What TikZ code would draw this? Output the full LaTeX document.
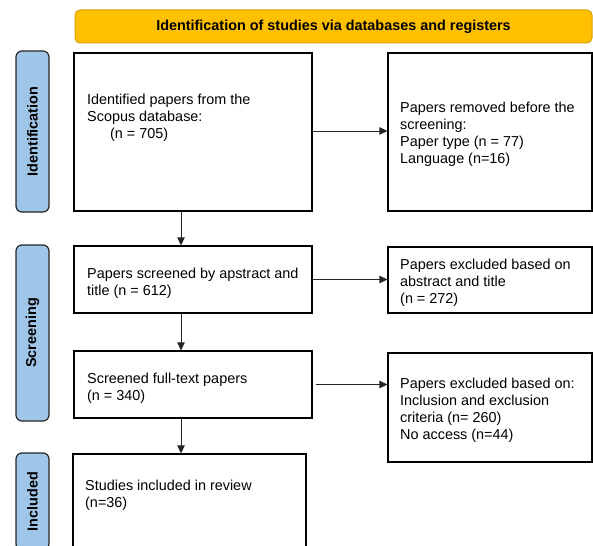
\documentclass[tikz,border=0pt]{standalone}
\usepackage{fontspec}
\setmainfont{Liberation Sans}
\usetikzlibrary{arrows.meta}
\definecolor{hdrfill}{HTML}{FFC000}
\definecolor{hdrdraw}{HTML}{D6A000}
\definecolor{sidefill}{HTML}{9FC5E8}
\definecolor{sidedraw}{HTML}{262626}
\begin{document}
\begin{tikzpicture}[x=1pt,y=-1pt,
  every node/.style={font=\fontsize{14.4}{17}\selectfont},
  hdr/.style={draw=hdrdraw, fill=hdrfill, line width=1pt, rounded corners=5pt, inner sep=0pt,
    font=\bfseries\fontsize{14.4}{17}\selectfont},
  side/.style={draw=sidedraw, fill=sidefill, line width=1.2pt, rounded corners=6pt, inner sep=0pt,
    rotate=90, minimum height=33pt, font=\bfseries\fontsize{14.4}{17}\selectfont},
  box/.style={draw=black, line width=1.2pt, inner sep=0pt},
  txt/.style={align=left, inner sep=0pt, anchor=west},
  arr/.style={-{Triangle[length=8pt,width=7.5pt]}, line width=0.8pt, draw=black!85}
]
\useasboundingbox (0,0) rectangle (593,545);
\clip (0,0) rectangle (593,545);

% header
\node[hdr, minimum width=517pt, minimum height=33pt] (hdr) at (333.5,26.5) {Identification of studies via databases and registers};

% side labels
\node[side, minimum width=161pt] (sid) at (32.5,131.5) {Identification};
\node[side, minimum width=176pt] (sscr) at (32.5,333) {Screening};
\node[side, minimum width=97pt] (sinc) at (32.5,501.5) {Included};

% left column boxes
\node[box, minimum width=238pt, minimum height=158pt] (b1) at (193,132) {};
\node[box, minimum width=238pt, minimum height=67pt] (b2) at (193,279.5) {};
\node[box, minimum width=238pt, minimum height=67pt] (b3) at (193,384.5) {};
\node[box, minimum width=233pt, minimum height=120pt] (b4) at (189.5,514) {};

\node[txt] (t1) at (87,118) {Identified papers from the\\Scopus database:\\\hspace*{23pt}(n = 705)};
\node[txt] (t2) at (87,283.5) {Papers screened by apstract and\\title (n = 612)};
\node[txt] (t3) at (87,388.5) {Screened full-text papers\\(n = 340)};
\node[txt] (t4) at (85,495.5) {Studies included in review\\(n=36)};

% right column boxes
\node[box, minimum width=204pt, minimum height=158pt] (r1) at (490,132) {};
\node[box, minimum width=204pt, minimum height=66pt] (r2) at (490,280) {};
\node[box, minimum width=204pt, minimum height=109pt] (r3) at (490,407.5) {};

\node[txt] (u1) at (400,134.5) {Papers removed before the\\screening:\\Paper type (n = 77)\\Language (n=16)};
\node[txt] (u2) at (400,282.5) {Papers excluded based on\\abstract and title\\(n = 272)};
\node[txt] (u3) at (400,410.5) {Papers excluded based on:\\Inclusion and exclusion\\criteria (n= 260)\\No access (n=44)};

% connectors
\coordinate (cx) at (181,0);
\draw[arr] (b1.south -| cx) -- (b2.north -| cx);
\draw[arr] (b2.south -| cx) -- (b3.north -| cx);
\draw[arr] (b3.south -| cx) -- (b4.north -| cx);
\draw[arr] ([yshift=1pt]b1.east) -- ([yshift=1pt]b1.east -| r1.west);
\draw[arr] (b2.east) -- (b2.east -| r2.west);
\draw[arr] ([xshift=3pt]b3.east) -- (b3.east -| r3.west);
\end{tikzpicture}
\end{document}
